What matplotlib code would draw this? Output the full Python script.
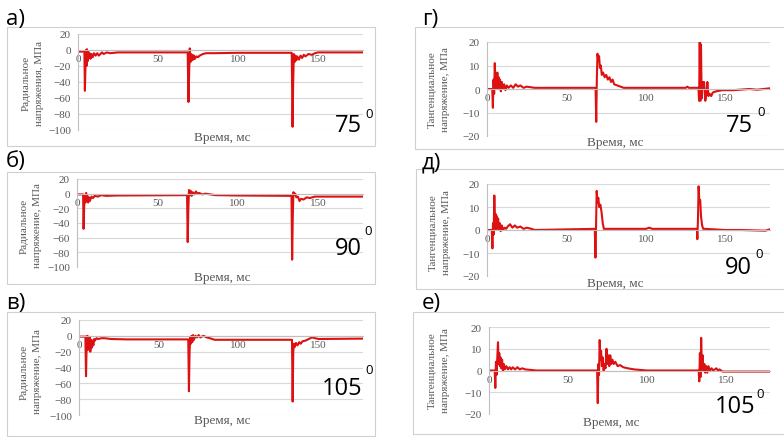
import numpy as np
import matplotlib
matplotlib.use("Agg")
import matplotlib.pyplot as plt
from matplotlib.patches import Rectangle

# --- Data (time, ms / stress, MPa) ---

radial_75 = [(0, -2), (4.0, -2), (4.3, -51), (4.7, -18), (5.0, 0), (5.3, -20), (5.6, 1), (6.0, -14),
             (6.4, -2), (6.8, -10), (7.2, -4), (7.8, -11), (8.5, -5), (9.2, -9), (10, -4), (11, -7),
             (12, -4), (13, -7), (14, -5), (15, -3), (16, -5), (18, -3), (20, -4), (25, -3), (30, -3),
             (68.5, -3), (69.0, -65), (69.4, -30), (69.8, 2), (70.2, -15), (70.6, -5), (71.0, -13),
             (71.5, -6), (72, -12), (72.5, -7), (73, -11), (74, -8), (75, -9), (76, -7), (78, -5),
             (80, -4), (85, -4), (100, -3.5), (133.5, -3.5), (134.0, -96), (134.4, -40), (134.8, -5),
             (135.3, -15), (135.8, -7), (136.3, -13), (137, -8), (138, -12), (139, -7), (140, -10),
             (141, -6), (142, -8), (144, -5), (146, -6), (148, -4), (150, -3), (178, -3)]

radial_90 = [(0, -1), (3.8, -1), (4.1, -48), (4.5, -15), (4.9, -2), (5.3, -12), (5.7, 1), (6.1, -10),
             (6.5, -3), (7.0, -12), (7.5, -5), (8.0, -10), (9, -4), (10, -6), (11, -3), (13, -4),
             (15, -2), (18, -3), (25, -2.5), (68.5, -2), (68.9, -66), (69.3, -20), (69.7, 5),
             (70.2, -2), (70.7, 4), (71.3, -3), (72, 2), (73, -1), (74, 3), (75, 0), (76, 1), (78, -1),
             (80, 0), (83, -1), (86, -2), (100, -2.5), (133.5, -3), (133.9, -90), (134.3, -30),
             (134.7, 2), (135.2, -2), (135.8, 0), (136.5, -5), (137.5, -4), (138.5, -10), (139.5, -7),
             (141, -8), (143, -5), (145, -6), (148, -4), (150, -4), (178, -4)]

radial_105 = [(0, -1), (4.0, -1), (4.4, -51), (4.8, -10), (5.1, 0), (5.5, -18), (5.9, -1), (6.3, -15),
              (6.7, -2), (7.1, -20), (7.5, -5), (8.0, -15), (8.5, -6), (9, -12), (9.5, -4), (10, -6),
              (11, -3), (12, -4), (14, -3), (16, -3), (20, -4), (30, -4.5), (68.5, -4.5), (68.9, -70),
              (69.3, -20), (69.7, -2), (70.1, -10), (70.5, 0), (71, -8), (71.5, 1), (72, -5), (73, 0),
              (74, -2), (75, 1), (76, -2), (78, 0), (80, -2), (82, -3), (85, -5), (100, -5),
              (133.5, -5), (133.9, -83), (134.3, -20), (134.7, -10), (135.3, -14), (136, -9),
              (137, -12), (138, -8), (139, -10), (140, -7), (142, -6), (144, -4), (146, -2),
              (148, -3), (150, -4), (178, -3.5)]

tang_75 = [(0, 0), (3.3, 0), (3.7, -8), (4.1, 4), (4.5, -2), (4.9, 11), (5.3, 2), (5.7, 6), (6.1, 0),
           (6.5, 7), (6.9, 1), (7.3, 5), (7.7, 0), (8.2, 4), (8.7, -1), (9.3, 3), (10, 0), (10.8, 2),
           (11.6, -0.5), (12.5, 1.5), (13.5, 0.5), (15, 1.5), (16.5, 0.5), (18, 2), (19.5, 1),
           (21, 1.5), (23, 0.5), (25, 1), (30, 0.5), (68.3, 0.5), (68.7, -14), (69.1, 5), (69.5, 15),
           (70, 12), (70.5, 14), (71, 9), (71.6, 10), (72.2, 6), (73, 7), (74, 5), (75, 6), (76, 4),
           (77, 5), (78, 3), (79, 4), (80, 2), (82, 1.5), (84, 1), (86, 0.5), (125, 0.5), (126, 1),
           (127, 0.5), (133, 0.5), (133.4, -5), (133.8, 20), (134.2, -5), (134.6, 19), (135, -4),
           (135.5, 3), (136, 0), (136.5, 3), (137.3, -5), (138, -2), (138.6, 3), (139.3, -3),
           (140, -2), (141, -3), (142, -1.5), (144, -1), (148, -0.5), (155, -0.5), (165, 0),
           (170, -0.3), (178, 0.3)]

tang_90 = [(0, 0), (3.0, 0), (3.4, -8), (3.8, 3), (4.2, -2), (4.6, 15), (5.0, 3), (5.4, 7), (5.8, 0),
           (6.2, 6), (6.6, 1), (7.0, 5), (7.5, 0), (8.0, 3), (8.6, -0.5), (9.3, 2), (10, 0), (11, 1),
           (12, 0.5), (13, 1.5), (14.5, 2.5), (16, 1), (17.5, 2), (19, 1), (21, 1.5), (23, 0.5),
           (25, 1), (28, 0.5), (30, 0), (67.8, 0.5), (68.2, -12), (68.6, 2), (69, 17), (69.5, 12),
           (70, 14), (70.6, 10), (71.3, 11), (72, 8), (72.8, 3), (73.5, 0.5), (100, 0.5), (102, 1),
           (104, 0.5), (132, 0.5), (132.3, -4), (132.7, 5), (133.1, 19), (133.6, 12), (134.1, 13),
           (134.6, 6), (135.3, 2), (136, 0.5), (137, 0.5), (150, 0), (160, 0), (175, -0.3),
           (178, 0.3)]

tang_105 = [(0, 0), (3.6, 0), (4.0, -8), (4.4, 4), (4.8, -2), (5.2, 5), (5.7, 13), (6.1, 3), (6.5, 8),
            (6.9, 2), (7.3, 6), (7.8, 1), (8.3, 5), (8.8, 0), (9.4, 3), (10, 0.5), (11, 2), (12, 0.5),
            (13, 1.5), (14, 0.5), (15, 1.5), (16.5, 0.5), (18, 1.5), (19.5, 0.5), (21, 1), (23, 0.5),
            (26, 0.3), (30, 0), (68.5, 0), (68.9, -15), (69.3, 3), (69.7, -2), (70.1, 14), (70.6, 5),
            (71, 9), (71.5, 2), (72, 6), (72.6, 0), (73.2, 3), (73.8, 1), (74.4, 10), (75, 3),
            (75.6, 7), (76.2, 2), (76.8, 7), (77.5, 3), (78.2, 5), (79, 3), (80, 4), (81.5, 2),
            (83, 2.5), (85, 1.5), (88, 1), (92, 0.5), (100, 0), (132.8, 0), (133.2, -5), (133.6, 8),
            (134, -3), (134.4, 15), (134.8, 2), (135.3, 7), (135.8, 0), (136.4, 3), (137, -1),
            (137.6, 2), (138.3, -1), (139, 2), (140, 0), (141, 1), (142, 0), (144, 1), (145, 0),
            (146, 0.5), (148, -0.5), (155, -0.5), (170, -0.5), (178, -0.5)]

panel_letters = ["а)", "б)", "в)", "г)", "д)", "е)"]
angles = ["75", "90", "105", "75", "90", "105"]
x_ticks = [0, 50, 100, 150]
radial_ticks = [-100, -80, -60, -40, -20, 0, 20]
tang_ticks = [-20, -10, 0, 10, 20]

radial_label = "Радиальное\nнапряжения, МПа"
radial_label_2 = "Радиальное\nнапряжение, МПа"
tang_label = "Тангенциальное\nнапряжение, МПа"
x_label = "Время, мс"

# --- Layout in pixels of the 784x439 picture ---
W, H = 784, 439
RED = "#DD1111"
GRAY_TXT = "#595959"

plt.rcParams["font.family"] = ["Liberation Serif", "DejaVu Serif"]

fig = plt.figure(figsize=(W / 100, H / 100), dpi=100)
fig.patch.set_facecolor("white")


def fx(x):
    return x / W


def fy(y):
    return 1 - y / H


def add_box(x0, y0, x1, y1):
    # light chart-area frame like in Excel
    fig.patches.append(Rectangle((fx(x0), fy(y1)), fx(x1 - x0), (y1 - y0) / H,
                                 transform=fig.transFigure, fill=False,
                                 edgecolor="#D0D0D0", lw=0.8))


def add_panel(x0, x1, y_top, y_bot, pts, ticks):
    ax = fig.add_axes([fx(x0), fy(y_bot), (x1 - x0) / W, (y_bot - y_top) / H])
    t, v = zip(*pts)
    ax.plot(t, v, color=RED, lw=1.5)
    ax.set_xlim(0, 178)
    ax.set_ylim(ticks[0], ticks[-1])
    ax.set_xticks(x_ticks)
    ax.set_yticks(ticks)
    ax.grid(axis="y", color="#D9D9D9", lw=0.8)
    ax.grid(axis="x", visible=False)
    ax.set_axisbelow(True)
    ax.patch.set_alpha(0)
    for s in ["top", "right"]:
        ax.spines[s].set_visible(False)
    ax.spines["bottom"].set_position(("data", 0))
    ax.spines["bottom"].set_color("#BFBFBF")
    ax.spines["left"].set_color("#BFBFBF")
    ax.tick_params(length=0, labelsize=8, labelcolor=GRAY_TXT)
    ax.tick_params(axis="x", pad=3)
    ax.tick_params(axis="y", pad=5)
    return ax


# --- chart frames ---
add_box(7, 28, 375, 147)
add_box(7, 173, 375, 285)
add_box(7, 313, 375, 437)
add_box(415, 28, 800, 150)
add_box(416, 170, 800, 290)
add_box(413, 313, 800, 435)

# --- panels ---
add_panel(78, 363, 35, 131, radial_75, radial_ticks)
add_panel(77, 363, 180, 268, radial_90, radial_ticks)
add_panel(79, 363, 321, 416, radial_105, radial_ticks)
add_panel(487, 770, 43, 137, tang_75, tang_ticks)
add_panel(487, 770, 185, 277, tang_90, tang_ticks)
add_panel(489, 770, 328, 415, tang_105, tang_ticks)

# --- texts ---
letter_pos = [(6, 19), (6, 162), (6, 304), (422, 19), (422, 163), (422, 304)]
for (x, y), s in zip(letter_pos, panel_letters):
    fig.text(fx(x), fy(y), s, family="Open Sans", fontsize=16, ha="left", va="center")

ylab_pos = [(33, 83, radial_label), (31, 226, radial_label_2), (31, 372, radial_label_2),
            (439, 90, tang_label), (440, 233, tang_label), (439, 371, tang_label)]
for x, y, s in ylab_pos:
    fig.text(fx(x), fy(y), s, rotation=90, ha="center", va="center", fontsize=8,
             color=GRAY_TXT, linespacing=1.7, multialignment="center")

xlab_pos = [(222, 138), (222, 278), (222, 421), (615, 143), (615, 284), (611, 423)]
for x, y in xlab_pos:
    fig.text(fx(x), fy(y), x_label, ha="center", va="center", fontsize=9.5, color=GRAY_TXT)

angle_pos = [(362, 132, 369, 115), (362, 255, 368, 232), (362, 395, 369, 371),
             (753, 132, 761, 113), (752, 274, 759, 255), (755, 413, 760, 395)]
for (x, y, sx, sy), s in zip(angle_pos, angles):
    fig.text(fx(x), fy(y), s, family="Open Sans", fontsize=17, ha="right", va="baseline")
    fig.text(fx(sx), fy(sy), "0", family="Open Sans", fontsize=9.5, ha="center", va="center")

fig.savefig("out.png", dpi=100)
